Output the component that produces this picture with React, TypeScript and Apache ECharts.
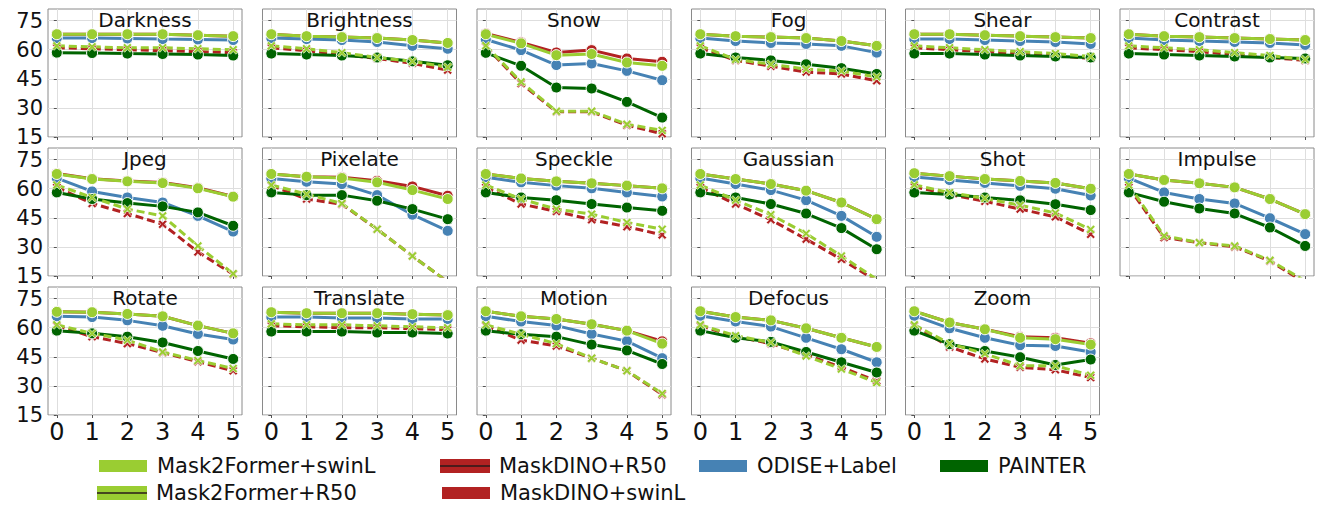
import React, { useEffect, useRef } from "react";
import * as echarts from "echarts";

const levels = [0, 1, 2, 3, 4, 5];
const yTicks = [15, 30, 45, 60, 75];
const corruptions = [
  "Darkness", "Brightness", "Snow", "Fog", "Shear", "Contrast",
  "Jpeg", "Pixelate", "Speckle", "Gaussian", "Shot", "Impulse",
  "Rotate", "Translate", "Motion", "Defocus", "Zoom",
];

const m2fSwinL = [
  [68, 68, 68, 68, 67.5, 67],
  [68, 67, 66.5, 66, 65, 63.5],
  [68, 63.3, 57.2, 57.8, 53.4, 51.7],
  [68, 67, 66.5, 66, 64.5, 62],
  [68, 68, 67.5, 67, 66.5, 66],
  [68, 67, 66.5, 66, 65.5, 65],
  [67.6, 65, 63.8, 62.9, 60.2, 55.9],
  [67.6, 66.2, 65.5, 63.3, 59.3, 54.7],
  [67.6, 65.3, 63.8, 62.8, 61.6, 60.2],
  [67.6, 65, 62.4, 59, 52.9, 44.3],
  [68, 66.5, 65, 64, 63, 60],
  [67.6, 64.5, 62.8, 60.7, 54.7, 46.9],
  [68.2, 68, 67.1, 65.9, 61.1, 57.1],
  [68, 67.5, 67.5, 67.5, 67, 66.5],
  [68.5, 65.9, 64.5, 61.8, 58.5, 51.8],
  [68.5, 65.5, 63.8, 59.7, 54.8, 50.1],
  [68.5, 62.7, 59.2, 54.8, 54.1, 51.3],
];
const maskdinoSwinL = [
  [68, 68, 68, 68, 67.5, 67],
  [68, 67, 66.5, 66, 65, 63.5],
  [68.4, 63.8, 58.6, 59.8, 55.5, 53.8],
  [68, 67, 66.5, 66, 64.5, 62],
  [68, 68, 67.5, 67, 66.5, 66],
  [68, 67, 66.5, 66, 65.5, 65],
  [67.8, 65.2, 64, 63.2, 60.5, 56],
  [67.6, 66.2, 65.9, 64.1, 61.2, 56.4],
  [67.6, 65.3, 63.8, 62.8, 61.6, 60.2],
  [67.6, 65, 62.4, 59, 52.9, 44.3],
  [68, 66.5, 65, 64, 63, 60],
  [67.6, 64.5, 62.8, 60.7, 54.7, 46.9],
  [68.2, 68, 67.1, 65.9, 61.1, 57.1],
  [68, 67.5, 67.5, 67.5, 67, 66.5],
  [68.5, 65.9, 64.5, 61.8, 58.5, 53],
  [68.5, 65.5, 63.8, 59.7, 54.8, 50.1],
  [68.5, 62.7, 59.2, 55.3, 54.8, 52],
];
const odise = [
  [66, 66, 65.8, 65.5, 65.3, 65],
  [66, 65.5, 65, 64, 62, 60.5],
  [65.3, 59.8, 52.1, 52.9, 49.1, 44.3],
  [66, 64.5, 63.5, 63, 62, 58.5],
  [65.5, 65.5, 65, 64.5, 64, 63],
  [66, 65, 64.5, 64, 63.5, 62.5],
  [65.5, 58.6, 55.5, 52.9, 46, 37.9],
  [65.3, 63.6, 62.4, 56.7, 46.6, 38.3],
  [65.9, 63.3, 61.6, 60.2, 58.1, 56],
  [65.5, 62.4, 59.3, 54.1, 46, 35.2],
  [66, 64.5, 63, 61.5, 60, 56.5],
  [65.5, 58.1, 54.7, 52.4, 44.8, 36.6],
  [65.9, 65.5, 63.8, 61, 56.8, 53.9],
  [65.5, 65.5, 65, 65, 64.5, 64.5],
  [65.9, 63.2, 61.1, 56.8, 53.1, 44.3],
  [66.2, 63.2, 60.6, 54.8, 48.9, 42.2],
  [66.2, 59.7, 54.8, 51, 50.6, 47.5],
];
const painter = [
  [58.5, 58.3, 58, 57.8, 57.5, 57],
  [58, 57.5, 57, 56, 54, 52],
  [58.4, 51.7, 40.5, 40, 33.1, 25],
  [58, 56, 54.5, 52.5, 50.5, 47.5],
  [58, 58, 57.5, 57, 56.5, 56],
  [58, 57.5, 57, 56.5, 56, 55.5],
  [58.1, 54.7, 52.6, 50.9, 47.8, 40.9],
  [58.1, 56.7, 56.7, 53.8, 49.5, 44.3],
  [58.1, 55.5, 54.1, 52.1, 50.3, 48.6],
  [58.1, 55.5, 52.1, 47.2, 39.7, 28.8],
  [58, 57, 55.5, 54, 52, 49],
  [58.1, 53.3, 49.8, 47.2, 40, 30.5],
  [58.5, 57.1, 55.4, 52.4, 48, 43.9],
  [58, 58, 58, 57.5, 57.5, 57],
  [58.5, 56.6, 55.4, 51.3, 48.3, 41.3],
  [58.5, 54.8, 52.7, 47.5, 42.2, 36.9],
  [58.5, 51.5, 48, 44.8, 40.8, 43.6],
];
const m2fR50 = [
  [62, 61.5, 61, 61, 60.5, 60],
  [62, 60.5, 58.5, 56, 54, 51],
  [62.1, 43.4, 28.3, 28.3, 21.6, 18.4],
  [62, 55, 52.5, 50, 49, 46],
  [62, 61, 60, 59, 58, 56.5],
  [62, 61, 60, 58.5, 57, 55],
  [61.9, 55.5, 49.5, 46, 30.5, 16.2],
  [61.9, 57.2, 52.4, 39.1, 25.3, 12],
  [61.9, 54.7, 49.5, 46.9, 42.6, 39.1],
  [61.9, 54.1, 46.6, 36.9, 25.3, 13.3],
  [62, 58, 55, 51.5, 47.5, 39],
  [61.9, 35.7, 32.2, 30.5, 23.1, 12.4],
  [61.5, 57.1, 53.6, 47.5, 43.1, 39],
  [62, 61.5, 61.5, 61, 60.5, 60],
  [61.5, 56.6, 51.8, 44.3, 37.8, 26.1],
  [61.5, 55.9, 52.4, 45.4, 38.7, 31.7],
  [61.5, 51.8, 46.6, 40.4, 40.4, 35.5],
];
const maskdinoR50 = [
  [61, 60.5, 60, 59.5, 59, 58.5],
  [61, 59.5, 57.5, 55.5, 53, 49.5],
  [61.6, 42.6, 28, 28, 21, 16.7],
  [61, 54.5, 51.5, 48.5, 47.5, 44],
  [61, 60, 59, 58, 57, 55.5],
  [61, 60, 59, 57.5, 56, 54.5],
  [60.7, 52.4, 47.2, 41.7, 27.4, 15.9],
  [61.6, 54.7, 52, 39.1, 25.3, 12],
  [60.7, 52.1, 48.3, 44, 40.4, 36.2],
  [60.7, 52.1, 44, 34, 23.6, 12.4],
  [61, 57, 53.5, 49.5, 45.5, 36.5],
  [60.7, 34.8, 32.2, 30, 22.7, 11.5],
  [61, 55.4, 51.8, 47.1, 42.5, 37.8],
  [61, 60.5, 60, 60, 59.5, 59],
  [61, 53.6, 50.6, 44.3, 37.8, 25.5],
  [61, 55.4, 51.8, 46.1, 39.6, 32.5],
  [61, 50.1, 43.9, 39.6, 38.3, 34.3],
];

const GREEN = "#9acd32";
const RED = "#b22222";
const BLUE = "#4682b4";
const DKGREEN = "#006400";
const FONT = "DejaVu Sans";

const XSYM = "path://M2,0 L5,3 L8,0 L10,2 L7,5 L10,8 L8,10 L5,7 L2,10 L0,8 L3,5 L0,2 Z";

const models = [
  { name: "MaskDINO+swinL", data: maskdinoSwinL, color: RED, dashed: false },
  { name: "MaskDINO+R50", data: maskdinoR50, color: RED, dashed: true },
  { name: "ODISE+Label", data: odise, color: BLUE, dashed: false },
  { name: "PAINTER", data: painter, color: DKGREEN, dashed: false },
  { name: "Mask2Former+R50", data: m2fR50, color: GREEN, dashed: true },
  { name: "Mask2Former+swinL", data: m2fSwinL, color: GREEN, dashed: false },
];

function lineIcon(color: string) {
  const svg = `<svg xmlns='http://www.w3.org/2000/svg' width='50' height='14'><rect width='50' height='14' fill='${color}'/><line x1='0' y1='7' x2='50' y2='7' stroke='#2a1a1a' stroke-width='1.6'/></svg>`;
  return "image://data:image/svg+xml;charset=utf-8," + encodeURIComponent(svg);
}

const COL_LEFT = [48, 262.5, 477, 691.5, 905.5, 1120];
const ROW_TOP = [9, 148, 287];
const PW = 194;
const PH = 128;

const legendItems = [
  { name: "Mask2Former+swinL", withLine: false, color: GREEN, left: 97, row: 0 },
  { name: "Mask2Former+R50", withLine: true, color: GREEN, left: 97, row: 1 },
  { name: "MaskDINO+R50", withLine: true, color: RED, left: 440, row: 0 },
  { name: "MaskDINO+swinL", withLine: false, color: RED, left: 440, row: 1 },
  { name: "ODISE+Label", withLine: false, color: BLUE, left: 697, row: 0 },
  { name: "PAINTER", withLine: false, color: DKGREEN, left: 938, row: 0 },
];
const LEGEND_ROW_CENTER = [466, 493];

function buildOption() {
  const grid: any[] = [];
  const xAxis: any[] = [];
  const yAxis: any[] = [];
  const series: any[] = [];
  const graphic: any[] = [];
  corruptions.forEach((title, i) => {
    const col = i % 6;
    const row = Math.floor(i / 6);
    const left = COL_LEFT[col];
    const top = ROW_TOP[row];
    grid.push({
      left, top, width: PW, height: PH,
      show: true, borderColor: "#8a8a8a", borderWidth: 1, backgroundColor: "#fff",
      containLabel: false,
    });
    xAxis.push({
      type: "value", gridIndex: i, min: -0.25, max: 5.25,
      axisLine: { show: false },
      axisTick: { show: true, length: 3, customValues: levels, lineStyle: { color: "#555" } },
      axisLabel: {
        show: row === 2, customValues: levels, fontSize: 24, fontFamily: FONT,
        color: "#111", margin: 5,
      },
      splitLine: { show: true, lineStyle: { color: "#dedede", width: 1 } },
    });
    yAxis.push({
      type: "value", gridIndex: i, min: 15, max: 81,
      axisLine: { show: false },
      axisTick: { show: true, length: 3, customValues: yTicks, lineStyle: { color: "#555" } },
      axisLabel: {
        show: col === 0, customValues: yTicks, fontSize: 21, fontFamily: FONT,
        color: "#111", margin: 5,
      },
      splitLine: { show: true, lineStyle: { color: "#dedede", width: 1 } },
    });
    graphic.push({
      type: "text", x: left + PW / 2, y: top + 11, z: 100,
      style: {
        text: title, fontSize: 20, fontFamily: FONT, fill: "#111",
        align: "center", verticalAlign: "middle",
      },
    });
    models.forEach((m) => {
      series.push({
        type: "line", name: m.name, xAxisIndex: i, yAxisIndex: i,
        data: levels.map((x, j) => [x, m.data[i][j]]),
        clip: true,
        symbol: m.dashed ? XSYM : "circle",
        symbolSize: m.dashed ? 9 : 11,
        showAllSymbol: true,
        lineStyle: { color: m.color, width: 3, type: m.dashed ? [8, 4] : "solid" },
        itemStyle: { color: m.color, borderColor: "#ffffff", borderWidth: m.dashed ? 0.6 : 1 },
        emphasis: { disabled: true },
      });
    });
  });

  const legend = legendItems.map((it) => ({
    orient: "horizontal",
    left: it.left,
    top: LEGEND_ROW_CENTER[it.row] - 11,
    itemWidth: 50, itemHeight: 14,
    selectedMode: false,
    padding: 0,
    textStyle: { fontSize: 21, fontFamily: FONT, color: "#111", lineHeight: 22, padding: [0, 0, 0, 4] },
    data: [{ name: it.name, icon: it.withLine ? lineIcon(it.color) : "rect" }],
  }));

  return {
    animation: false,
    backgroundColor: "#ffffff",
    grid, xAxis, yAxis, series, graphic, legend,
  };
}

export default function App() {
  const ref = useRef<HTMLDivElement>(null);
  useEffect(() => {
    if (!ref.current) return;
    const chart = echarts.init(ref.current, null, { renderer: "svg" });
    chart.setOption(buildOption() as any);
    return () => chart.dispose();
  }, []);
  return (
    <div
      ref={ref}
      style={{ position: "fixed", left: 0, top: 0, width: 1325, height: 512, background: "#fff" }}
    />
  );
}
